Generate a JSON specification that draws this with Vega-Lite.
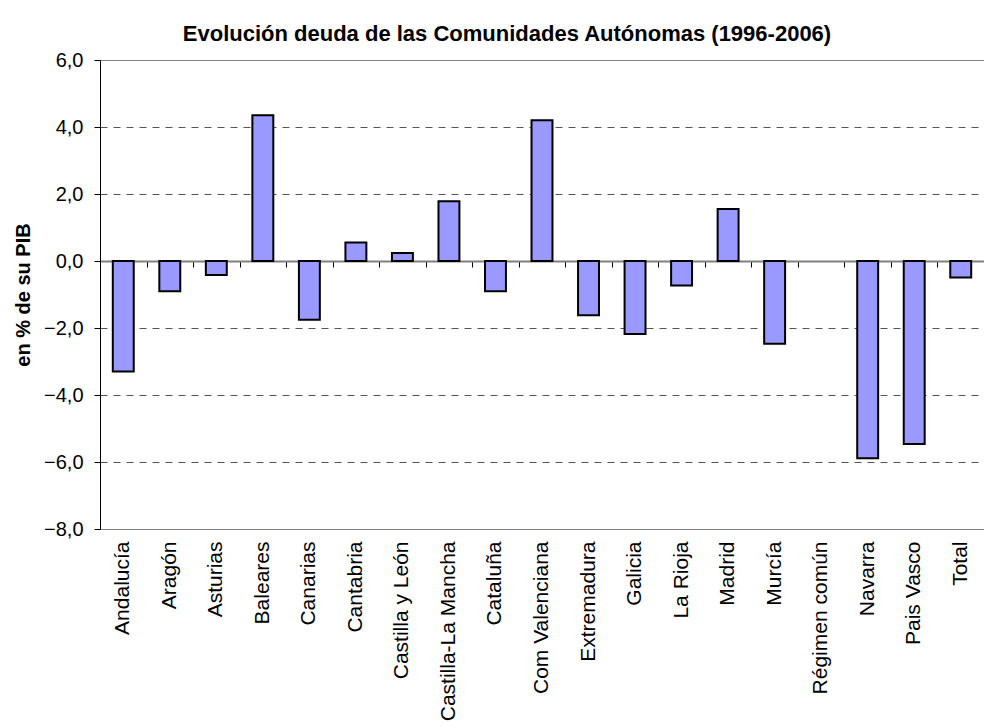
{
  "$schema": "https://vega.github.io/schema/vega-lite/v6.json",
  "width": 884,
  "height": 469,
  "autosize": "none",
  "padding": {"left": 100, "top": 60, "right": 0, "bottom": 198},
  "background": "white",
  "config": {"view": {"stroke": null}, "font": "Liberation Sans"},
  "title": {
    "text": "Evolución deuda de las Comunidades Autónomas (1996-2006)",
    "font": "Liberation Sans",
    "fontSize": 22,
    "fontWeight": "bold",
    "color": "black",
    "anchor": "middle",
    "frame": "group",
    "dx": -35,
    "dy": 27,
    "offset": 14,
    "baseline": "alphabetic"
  },
  "data": {
    "values": [
      {"region": "Andalucía", "value": -3.3},
      {"region": "Aragón", "value": -0.9},
      {"region": "Asturias", "value": -0.42},
      {"region": "Baleares", "value": 4.35},
      {"region": "Canarias", "value": -1.75},
      {"region": "Cantabria", "value": 0.55},
      {"region": "Castilla y León", "value": 0.24},
      {"region": "Castilla-La Mancha", "value": 1.78},
      {"region": "Cataluña", "value": -0.9},
      {"region": "Com Valenciana", "value": 4.2},
      {"region": "Extremadura", "value": -1.62},
      {"region": "Galicia", "value": -2.18},
      {"region": "La Rioja", "value": -0.73},
      {"region": "Madrid", "value": 1.55},
      {"region": "Murcía", "value": -2.47},
      {"region": "Régimen común", "value": 0},
      {"region": "Navarra", "value": -5.89},
      {"region": "Pais Vasco", "value": -5.46},
      {"region": "Total", "value": -0.49}
    ]
  },
  "layer": [
    {
      "mark": {"type": "bar", "fill": "#9999FF", "stroke": "black"},
      "encoding": {
        "x": {
          "field": "region", "type": "nominal", "sort": null,
          "scale": {"paddingInner": 0.55, "paddingOuter": 0.275},
          "axis": {
            "title": null, "orient": "bottom",
            "labelAngle": -90, "labelAlign": "right", "labelBaseline": "middle",
            "labelFontSize": 21, "labelColor": "black", "labelFont": "Liberation Sans",
            "labelPadding": 12, "ticks": false, "labelLimit": 300,
            "domain": true, "domainColor": "#808080", "domainWidth": 1
          }
        },
        "y": {
          "field": "value", "type": "quantitative",
          "scale": {"domain": [-8, 6], "nice": false, "zero": false},
          "axis": {
            "title": "en % de su PIB",
            "titleFontSize": 20, "titleFontWeight": "bold", "titleColor": "black",
            "titleFont": "Liberation Sans", "titlePadding": 10,
            "values": [-8, -6, -4, -2, 0, 2, 4, 6],
            "labelExpr": "replace(format(datum.value, '.1f'), '.', ',')",
            "labelFontSize": 20, "labelColor": "black", "labelFont": "Liberation Sans",
            "labelPadding": 11,
            "tickSize": 6, "tickColor": "black",
            "domainColor": "black", "domainWidth": 1,
            "grid": true,
            "gridColor": {"condition": {"test": "datum.value == 6 || datum.value == -8", "value": "#808080"}, "value": "#555555"},
            "gridDash": {"condition": {"test": "datum.value == 6 || datum.value == -8 || datum.value == 0", "value": []}, "value": [7, 6]},
            "gridWidth": 1
          }
        },
        "strokeWidth": {"condition": {"test": "datum.value == 0", "value": 0}, "value": 2}
      }
    },
    {
      "mark": {"type": "bar", "opacity": 0},
      "encoding": {
        "x": {
          "field": "region", "type": "nominal", "sort": null,
          "axis": {
            "title": null, "orient": "bottom", "offset": -268,
            "labels": false, "ticks": true, "tickSize": 6, "tickColor": "black",
            "tickWidth": 1, "tickOffset": -23.26,
            "domain": true, "domainColor": "#808080", "domainWidth": 2,
            "grid": false, "zindex": 0
          }
        },
        "y": {"field": "value", "type": "quantitative"}
      }
    }
  ],
  "resolve": {"axis": {"x": "independent"}}
}
